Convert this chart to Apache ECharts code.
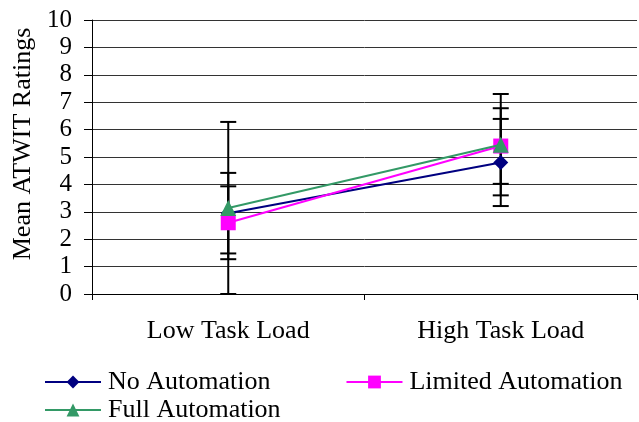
<!DOCTYPE html>
<html><head><meta charset="utf-8">
<script src="https://cdn.jsdelivr.net/npm/echarts@6/dist/echarts.min.js"></script>
<style>html,body{margin:0;padding:0;background:#fff}#c{width:639px;height:422px}</style>
</head><body><div id="c"></div>
<script>
const categories = ['Low Task Load', 'High Task Load'];
const noAuto = [2.95, 4.8];
const limitedAuto = [2.6, 5.4];
const fullAuto = [3.14, 5.45];
const noAutoErr = [1.47, 1.59];
const limitedAutoErr = [1.33, 1.38];
const fullAutoErr = [3.14, 1.85];
const yTicks = [0, 10, 1];

const font = 'Liberation Serif';
const errData = [];
[[noAuto, noAutoErr], [limitedAuto, limitedAutoErr], [fullAuto, fullAutoErr]].forEach(([v, e]) => {
  v.forEach((m, i) => errData.push([i, m - e[i], m + e[i]]));
});

const chart = echarts.init(document.getElementById('c'));
chart.setOption({
  animation: false,
  backgroundColor: '#fff',
  grid: { left: 92, right: 2, top: 20, bottom: 128 },
  xAxis: {
    type: 'category', data: categories,
    axisLine: { lineStyle: { color: '#000', width: 1 } },
    axisTick: { show: true, interval: 0, alignWithLabel: false, length: 6, lineStyle: { color: '#000' } },
    axisLabel: { color: '#000', fontFamily: font, fontSize: 26, margin: 24 },
    splitLine: { show: false }
  },
  yAxis: {
    type: 'value', min: yTicks[0], max: yTicks[1], interval: yTicks[2],
    name: 'Mean ATWIT Ratings', nameLocation: 'middle', nameGap: 54,
    nameTextStyle: { color: '#000', fontFamily: font, fontSize: 26, padding: [0, 0, 0, 26] },
    axisLine: { show: true, lineStyle: { color: '#000', width: 1 } },
    axisTick: { show: true, length: 8, inside: false, lineStyle: { color: '#000' } },
    axisLabel: { color: '#000', fontFamily: font, fontSize: 25, margin: 20 },
    splitLine: { show: true, lineStyle: { color: '#333', width: 1 } }
  },
  legend: [{
    data: ['No Automation', 'Limited Automation'],
    left: 44, top: 369, padding: 0, itemWidth: 56, itemHeight: 16, itemGap: 75,
    textStyle: { color: '#000', fontFamily: font, fontSize: 26, padding: [0, 0, 0, 2] }
  }, {
    data: ['Full Automation'],
    left: 44, top: 397, padding: 0, itemWidth: 56, itemHeight: 16,
    textStyle: { color: '#000', fontFamily: font, fontSize: 26, padding: [0, 0, 0, 2] }
  }],
  series: [
    {
      type: 'custom', name: 'err', z: 1, silent: true,
      data: errData,
      renderItem: function (params, api) {
        const x = api.value(0);
        const lo = api.coord([x, api.value(1)]);
        const hi = api.coord([x, api.value(2)]);
        const hw = 8;
        const st = { stroke: '#000', lineWidth: 2 };
        return { type: 'group', children: [
          { type: 'line', shape: { x1: lo[0], y1: lo[1], x2: hi[0], y2: hi[1] }, style: st },
          { type: 'line', shape: { x1: lo[0] - hw, y1: lo[1], x2: lo[0] + hw, y2: lo[1] }, style: st },
          { type: 'line', shape: { x1: hi[0] - hw, y1: hi[1], x2: hi[0] + hw, y2: hi[1] }, style: st }
        ] };
      }
    },
    { name: 'No Automation', type: 'line', data: noAuto, z: 3, color: '#000080',
      symbol: 'diamond', symbolSize: 15, lineStyle: { width: 2 }, itemStyle: { color: '#000080' } },
    { name: 'Limited Automation', type: 'line', data: limitedAuto, z: 4, color: '#ff00ff',
      symbol: 'rect', symbolSize: 15, lineStyle: { width: 2 }, itemStyle: { color: '#ff00ff' } },
    { name: 'Full Automation', type: 'line', data: fullAuto, z: 5, color: '#339966',
      symbol: 'triangle', symbolSize: 16, lineStyle: { width: 2 }, itemStyle: { color: '#339966' } }
  ]
});
</script></body></html>
